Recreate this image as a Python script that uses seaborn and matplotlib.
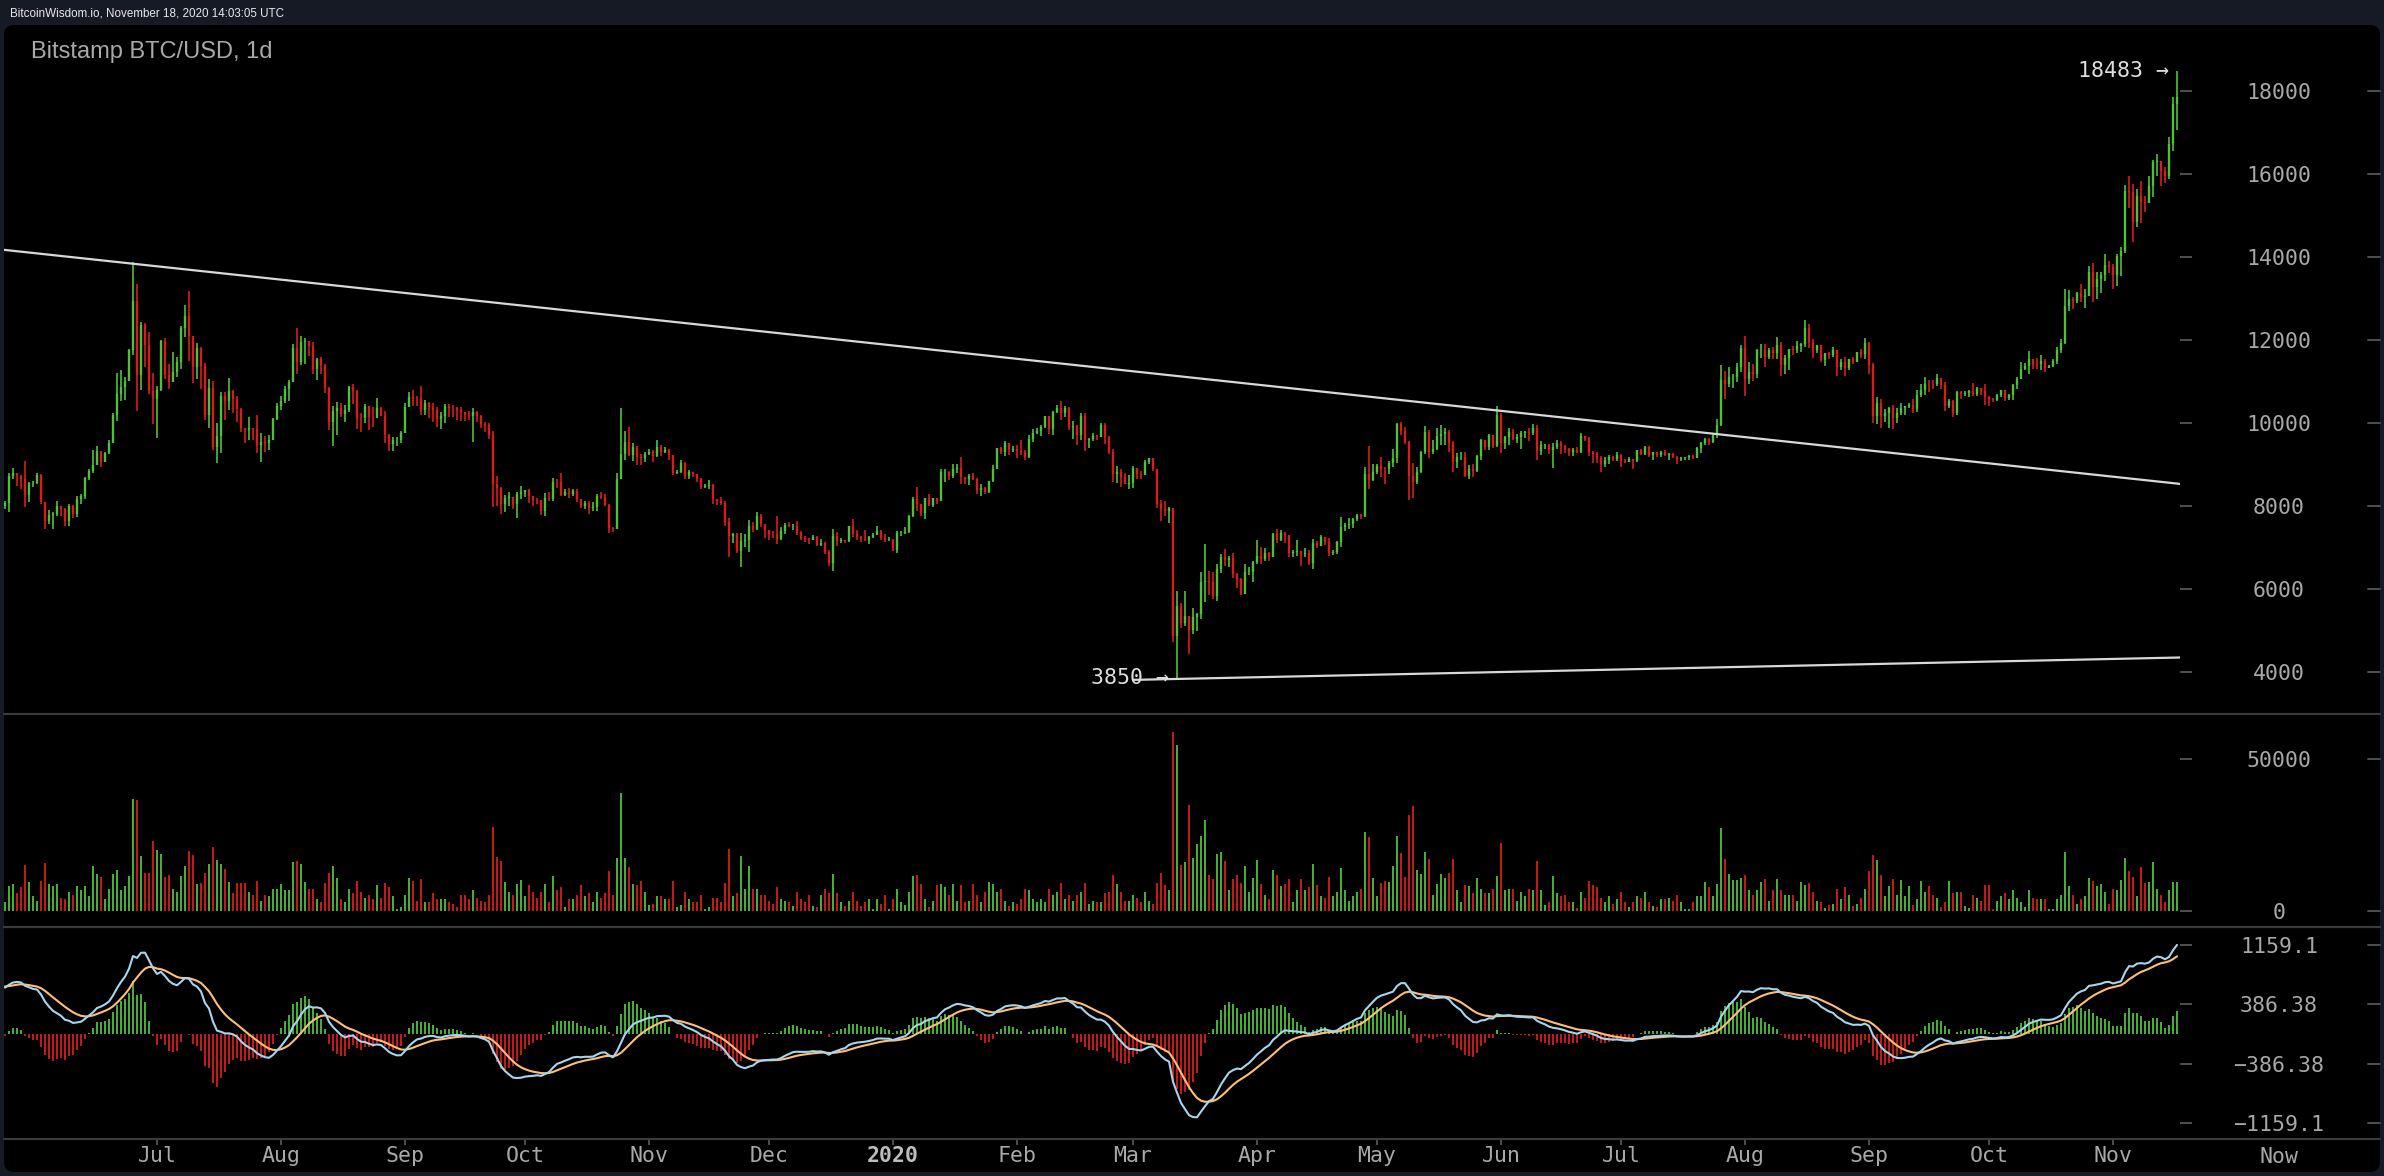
import numpy as np
import pandas as pd
import matplotlib
matplotlib.use("Agg")
import matplotlib.pyplot as plt
import matplotlib.transforms as mtransforms
from matplotlib.patches import FancyBboxPatch
from matplotlib.lines import Line2D
import seaborn as sns

# ---------------------------------------------------------------- data
FIRST_DAY = "2019-05-25"
FIRST_OPEN = 7990

CLOSE = [
    8070, 8730, 8800, 8720, 8650, 8270, 8550,
    8560, 8740, 8100, 7650, 7790, 7800, 7990, 7920, 7630, 8010, 7800, 8180, 8250, 8680, 8850, 8990, 9320, 9070, 9270, 9530,
    10200, 10700, 10870, 11020, 11750, 12930, 11150, 12370, 11880, 10780,
    10580, 10800, 11970, 11150, 10980, 11240, 11470, 12290, 12580, 12090, 11350, 11810, 11380, 10200, 10850, 9430, 9690, 10640,
    10530, 10760, 10590, 10330, 9880, 9840, 9890, 9850, 9480, 9540, 9520, 9590, 10090,
    10400, 10530, 10820, 10980, 11800, 11460, 11950, 11980, 11860, 11290, 11550, 11400, 10850, 10020, 10300, 10360, 10220, 10320,
    10860, 10760, 10130, 10110, 10400, 10140, 10130, 10370, 10180, 9720, 9490, 9590, 9600,
    9760, 10380, 10620, 10580, 10570, 10310, 10480, 10380, 10310, 10100, 10160, 10410, 10360, 10350, 10310, 10260, 10190, 10160,
    10270, 10170, 9980, 9950, 9700, 8530, 8440, 8060, 8190, 8210, 8050, 8300,
    8330, 8380, 8240, 8150, 8140, 7870, 8200, 8180, 8590, 8580, 8270, 8330, 8290, 8350, 8160, 7990, 8080, 7960, 7970, 8230,
    8220, 8020, 7470, 7440, 8660, 9260, 9550, 9230, 9430, 9180, 9150,
    9250, 9310, 9200, 9420, 9310, 9350, 9220, 8800, 8810, 9030, 8720, 8810, 8760, 8640, 8460, 8490, 8500, 8170, 8120, 8080,
    7620, 7280, 7330, 6910, 7150, 7180, 7520, 7440, 7760, 7570,
    7410, 7310, 7300, 7200, 7400, 7540, 7510, 7520, 7340, 7220, 7200, 7190, 7250, 7070, 7120, 6880, 6620, 7280, 7150, 7190,
    7150, 7510, 7320, 7250, 7200, 7190, 7250, 7300, 7390, 7220, 7170,
    7180, 6950, 7340, 7360, 7370, 7760, 8160, 8040, 7820, 8190, 8030, 8190, 8110, 8810, 8820, 8720, 8900, 8910, 8700, 8640,
    8730, 8660, 8390, 8440, 8340, 8600, 8900, 9390, 9290, 9510, 9350,
    9380, 9330, 9290, 9180, 9620, 9760, 9810, 9910, 10160, 9860, 10270, 10360, 10240, 10370, 9900, 9930, 9700, 10180, 9600, 9610,
    9690, 9670, 9960, 9660, 9310, 8780, 8810, 8700, 8540,
    8560, 8920, 8760, 8750, 9070, 9150, 8900, 8040, 7930, 7890, 7940, 4860, 5580, 5170, 5360, 5020, 5330, 5390, 6180, 6200,
    6180, 5820, 6490, 6760, 6700, 6750, 6370, 6230, 5880, 6400, 6420,
    6640, 6800, 6730, 6860, 6780, 7330, 7180, 7360, 7290, 6870, 6890, 6910, 6850, 6870, 6620, 7110, 7040, 7260, 7130, 6860,
    6880, 7130, 7500, 7540, 7560, 7690, 7790, 7770, 8780, 8620,
    8830, 8970, 8900, 8880, 9030, 9150, 9980, 9810, 9540, 8730, 8570, 8810, 9310, 9790, 9310, 9380, 9680, 9730, 9780, 9510,
    9060, 9170, 9180, 8720, 8900, 8840, 9200, 9580, 9420, 9700, 9450,
    10200, 9520, 9670, 9790, 9620, 9670, 9750, 9780, 9770, 9880, 9320, 9470, 9480, 9340, 9430, 9520, 9450, 9380, 9300, 9360,
    9290, 9680, 9620, 9290, 9250, 9160, 9000, 9120, 9190, 9140,
    9230, 9090, 9060, 9130, 9080, 9340, 9250, 9430, 9240, 9290, 9230, 9300, 9240, 9250, 9190, 9130, 9150, 9170, 9210, 9160,
    9390, 9530, 9610, 9550, 9710, 9940, 11030, 10930, 11100, 11110, 11350,
    11800, 11070, 11230, 11190, 11750, 11770, 11600, 11760, 11680, 11880, 11390, 11570, 11780, 11760, 11860, 11910, 12290, 11960,
    11750, 11870, 11520, 11680, 11650, 11760, 11350, 11470, 11320, 11530, 11480, 11710, 11660,
    11920, 11400, 10170, 10470, 10160, 10250, 10370, 10130, 10230, 10350, 10400, 10440, 10330, 10680, 10790, 10950, 10940, 10930,
    11080, 10920, 10420, 10540, 10240, 10740, 10690, 10730, 10780, 10700, 10840, 10780,
    10620, 10570, 10550, 10670, 10790, 10600, 10670, 10920, 11060, 11300, 11370, 11540, 11430, 11420, 11500, 11330, 11370, 11500,
    11750, 11920, 12820, 12990, 12930, 13130, 13040, 13070, 13650, 13280, 13460, 13560, 13800,
    13760, 13560, 14030, 14150, 15590, 15570, 14840, 15480, 15330, 15310, 15700, 16280, 16320, 16070, 15960, 16730, 17680, 17850,
]

HIGH = [
    8130, 8800, 8920, 8800, 8740, 9080, 8590,
    8600, 8800, 8760, 8100, 7900, 7860, 8120, 8010, 7950, 8060, 8030, 8250, 8300, 8700, 8900, 9350, 9450, 9330, 9300, 9580,
    10230, 11200, 11270, 11100, 11780, 13880, 13350, 12440, 12400, 12200,
    11200, 10900, 12000, 12060, 11420, 11700, 11580, 12340, 12850, 13180, 12100, 11920, 11820, 11450, 11050, 11000, 9990, 10740,
    10740, 11080, 10800, 10650, 10350, 9890, 10150, 9890, 10200, 9750, 9690, 9710, 10120,
    10480, 10660, 10900, 11040, 11900, 12280, 12090, 12040, 11980, 11940, 11560, 11580, 11420, 10870, 10410, 10500, 10470, 10430,
    10900, 10940, 10800, 10250, 10460, 10410, 10380, 10600, 10380, 10280, 9740, 9660, 9660,
    9800, 10470, 10750, 10800, 10650, 10900, 10550, 10500, 10480, 10380, 10270, 10450, 10450, 10430, 10380, 10380, 10270, 10290,
    10350, 10300, 10190, 10030, 10000, 9800, 8730, 8460, 8270, 8330, 8220, 8340,
    8490, 8390, 8400, 8240, 8190, 8150, 8320, 8330, 8680, 8650, 8800, 8420, 8440, 8400, 8420, 8170, 8110, 8110, 8090, 8300,
    8330, 8300, 8040, 7500, 8800, 10350, 9800, 9900, 9530, 9440, 9260,
    9290, 9380, 9360, 9580, 9460, 9430, 9370, 9230, 8870, 9120, 9060, 8860, 8820, 8780, 8680, 8530, 8620, 8520, 8180, 8210,
    8120, 7710, 7340, 7350, 7360, 7330, 7660, 7620, 7860, 7810,
    7570, 7420, 7400, 7750, 7490, 7580, 7620, 7560, 7630, 7400, 7270, 7230, 7300, 7270, 7200, 7140, 6940, 7440, 7380, 7220,
    7190, 7520, 7690, 7430, 7270, 7430, 7270, 7360, 7510, 7410, 7330,
    7250, 7200, 7400, 7390, 7490, 7790, 8210, 8460, 8050, 8200, 8290, 8200, 8200, 8880, 8900, 8850, 9010, 9000, 9190, 8710,
    8760, 8800, 8670, 8520, 8450, 8610, 8980, 9400, 9430, 9560, 9530,
    9440, 9470, 9600, 9340, 9700, 9860, 9870, 9950, 10180, 10160, 10290, 10440, 10520, 10400, 10380, 10050, 9960, 10250, 10230, 9650,
    9760, 9700, 9990, 10000, 9680, 9380, 8970, 8900, 8800,
    8750, 8960, 8920, 8850, 9110, 9160, 9160, 8900, 8150, 8130, 7970, 7950, 5940, 5660, 5940, 5360, 5550, 5430, 6410, 7080,
    6440, 6400, 6600, 6840, 6960, 6790, 6860, 6390, 6260, 6600, 6520,
    6680, 7180, 7000, 6990, 6900, 7350, 7450, 7420, 7380, 7300, 6940, 7180, 6910, 6980, 6930, 7200, 7150, 7300, 7260, 7220,
    6950, 7150, 7730, 7600, 7700, 7700, 7800, 7800, 8950, 9440,
    9000, 9000, 9180, 8950, 9080, 9380, 9990, 10030, 9900, 9570, 9030, 8950, 9330, 9930, 9840, 9580, 9880, 9950, 9880, 9830,
    9560, 9270, 9310, 9300, 8980, 9010, 9220, 9620, 9600, 9740, 9700,
    10400, 10230, 9690, 9880, 9850, 9730, 9800, 9800, 9880, 9980, 9940, 9560, 9500, 9490, 9520, 9580, 9560, 9480, 9400, 9400,
    9410, 9760, 9690, 9660, 9330, 9290, 9200, 9180, 9230, 9200,
    9290, 9260, 9130, 9190, 9140, 9360, 9370, 9450, 9440, 9300, 9290, 9330, 9340, 9280, 9270, 9200, 9180, 9190, 9220, 9220,
    9420, 9540, 9650, 9630, 9730, 10100, 11400, 11250, 11340, 11170, 11450,
    11880, 12100, 11480, 11420, 11790, 11900, 11910, 11800, 11820, 12070, 11950, 11630, 11790, 11850, 11970, 11930, 12480, 12390,
    12020, 11890, 11880, 11690, 11710, 11830, 11770, 11530, 11590, 11550, 11580, 11720, 11780,
    12060, 11950, 11450, 10620, 10570, 10340, 10390, 10440, 10350, 10480, 10410, 10480, 10570, 10800, 10940, 11100, 11040, 11030,
    11180, 11060, 10990, 10570, 10550, 10780, 10770, 10770, 10800, 10960, 10860, 10840,
    10930, 10660, 10600, 10690, 10800, 10800, 10690, 10950, 11100, 11480, 11440, 11730, 11550, 11560, 11630, 11540, 11400, 11530,
    11820, 12030, 13220, 13200, 13030, 13160, 13340, 13240, 13780, 13850, 13650, 13640, 14080,
    13900, 13820, 14070, 14240, 15740, 15960, 15770, 15650, 15840, 15460, 15960, 16340, 16480, 16320, 16170, 16880, 17860, 18483,
]

LOW = [
    7930, 7860, 8650, 8480, 8410, 7980, 8100,
    8450, 8540, 8040, 7450, 7560, 7450, 7750, 7760, 7520, 7520, 7700, 7730, 8050, 8180, 8620, 8800, 8980, 8930, 9050, 9250,
    9530, 10060, 10520, 10560, 11020, 11650, 10300, 10800, 11350, 10700,
    9970, 9650, 10780, 11070, 10820, 10980, 11100, 11300, 12080, 11500, 10960, 11050, 10830, 10080, 9880, 9350, 9030, 9280,
    10080, 10310, 10230, 10030, 9790, 9510, 9600, 9590, 9270, 9070, 9310, 9350, 9590,
    10080, 10310, 10480, 10520, 10980, 11180, 11400, 11420, 11610, 11180, 11040, 11180, 10720, 9830, 9450, 9700, 10150, 10030,
    10270, 10450, 9850, 9780, 10000, 9830, 9900, 10130, 10170, 9510, 9320, 9320, 9440,
    9510, 9770, 10380, 10400, 10420, 10200, 10200, 10120, 10030, 9900, 9850, 10000, 10150, 10150, 10080, 10060, 10060, 10070,
    9550, 10030, 9890, 9790, 9620, 7970, 7990, 7800, 7860, 8010, 7920, 7710,
    8170, 8220, 8070, 7990, 8050, 7780, 7760, 8120, 8120, 8440, 8230, 8250, 8200, 8230, 8100, 7950, 7930, 7810, 7880, 7880,
    8160, 7990, 7360, 7370, 7440, 8670, 9120, 9210, 9080, 8990, 8980,
    9050, 9220, 9070, 9180, 9200, 9280, 9100, 8740, 8760, 8800, 8650, 8650, 8710, 8580, 8400, 8440, 8420, 8060, 8020, 8030,
    7520, 6780, 7120, 6870, 6520, 7020, 6880, 7380, 7420, 7490,
    7230, 7170, 7240, 7080, 7170, 7330, 7490, 7420, 7290, 7170, 7130, 7090, 7180, 7030, 7040, 6840, 6560, 6430, 7040, 7110,
    7100, 7140, 7260, 7170, 7130, 7150, 7080, 7240, 7290, 7180, 7140,
    7160, 6910, 6860, 7270, 7320, 7360, 7730, 7880, 7750, 7680, 8000, 7970, 8060, 8110, 8580, 8620, 8680, 8800, 8530, 8530,
    8500, 8620, 8300, 8240, 8290, 8320, 8590, 8890, 9260, 9210, 9230,
    9310, 9150, 9240, 9110, 9160, 9550, 9730, 9680, 9890, 9730, 9710, 10240, 10080, 10140, 9820, 9610, 9460, 9580, 9320, 9400,
    9570, 9600, 9660, 9500, 9250, 8580, 8560, 8460, 8520,
    8420, 8430, 8650, 8660, 8750, 9000, 8850, 7960, 7630, 7750, 7580, 4720, 3850, 5050, 5100, 4440, 4920, 4980, 5270, 5680,
    5860, 5750, 5700, 6380, 6550, 6530, 6260, 6020, 5860, 5870, 6340,
    6160, 6600, 6610, 6680, 6680, 6770, 7100, 7150, 7120, 6770, 6780, 6800, 6560, 6780, 6580, 6480, 6990, 7030, 7060, 6800,
    6810, 6850, 7020, 7390, 7450, 7460, 7650, 7690, 7730, 8420,
    8600, 8760, 8710, 8540, 8770, 8930, 9040, 9700, 9500, 8150, 8200, 8540, 8800, 9260, 9150, 9260, 9350, 9470, 9470, 9300,
    8820, 8920, 9100, 8700, 8640, 8700, 8810, 9110, 9340, 9350, 9390,
    9420, 9270, 9380, 9460, 9580, 9530, 9380, 9640, 9570, 9700, 9100, 9240, 9380, 9250, 8910, 9380, 9250, 9280, 9210, 9200,
    9270, 9280, 9570, 9200, 9030, 9030, 8830, 8950, 9020, 9080,
    9080, 8950, 9040, 9050, 8900, 9060, 9220, 9230, 9180, 9120, 9190, 9170, 9200, 9110, 9160, 9010, 9090, 9120, 9110, 9130,
    9150, 9280, 9470, 9460, 9530, 9650, 9920, 10570, 10860, 10850, 10980,
    11230, 10660, 10940, 11010, 11080, 11560, 11350, 11530, 11530, 11530, 11130, 11170, 11280, 11640, 11690, 11700, 11830, 11810,
    11570, 11690, 11480, 11380, 11530, 11600, 11130, 11280, 11140, 11280, 11430, 11460, 11570,
    11530, 11170, 10000, 9980, 9870, 10020, 9880, 9860, 10010, 10190, 10200, 10360, 10230, 10270, 10630, 10680, 10750, 10820,
    10900, 10810, 10290, 10360, 10140, 10200, 10570, 10650, 10620, 10650, 10640, 10680,
    10440, 10400, 10500, 10530, 10630, 10540, 10560, 10550, 10820, 11060, 11280, 11190, 11300, 11290, 11270, 11230, 11320, 11350,
    11420, 11690, 11900, 12710, 12740, 12890, 12910, 12780, 13060, 12920, 12990, 13140, 13430,
    13620, 13220, 13300, 13530, 14100, 15190, 14360, 14720, 14830, 15080, 15290, 15450, 15960, 15720, 15790, 15870, 16560, 17050,
]

# daily volume, thousands of BTC
VOLUME_K = [
    2.8, 8.1, 8.8, 5.9, 7.8, 15.1, 9.4,
    4.8, 3.4, 9.8, 15.7, 8.8, 8.1, 8.8, 4.4, 3.8, 6.1, 5.1, 8.1, 6.8, 8.1, 4.8, 14.7, 12.1, 11.1, 4.1, 7.4,
    12.1, 13.4, 6.8, 8.1, 11.4, 36.7, 36.4, 18.1, 12.4, 12.4,
    23.1, 20.1, 18.7, 11.1, 11.8, 7.4, 6.1, 11.4, 14.7, 19.7, 18.4, 8.8, 9.1, 12.4, 15.4, 21.1, 16.7, 15.4, 13.7, 9.4,
    5.8, 9.1, 9.1, 9.1, 6.1, 5.1, 9.8, 3.4, 5.1, 4.8, 7.4,
    7.4, 8.8, 6.8, 6.8, 16.1, 16.4, 15.4, 9.4, 7.1, 7.1, 4.1, 3.1, 9.1, 12.4, 14.7, 10.8, 3.8, 2.8, 7.4, 5.8,
    9.8, 6.4, 4.4, 5.1, 3.8, 8.4, 4.4, 9.1, 7.8, 4.8, 0.8,
    1.4, 5.4, 10.8, 9.8, 3.4, 10.4, 2.8, 3.1, 5.8, 4.1, 4.1, 4.1, 2.8, 2.4, 1.4, 5.1, 5.1, 3.8, 6.8, 4.4,
    3.4, 2.8, 5.1, 27.7, 17.7, 16.4, 9.4, 6.1, 5.4, 8.8,
    10.1, 4.8, 8.4, 6.4, 4.4, 6.4, 8.8, 3.1, 11.4, 6.8, 7.8, 1.4, 4.1, 4.1, 5.1, 8.4, 4.8, 5.8, 2.8, 6.1,
    4.4, 5.8, 13.1, 5.1, 17.4, 38.7, 17.4, 14.4, 8.8, 8.4, 9.8,
    6.1, 2.1, 2.4, 4.8, 4.8, 3.8, 4.1, 9.8, 1.4, 2.1, 6.4, 4.1, 3.1, 3.1, 5.1, 0.8, 1.4, 4.4, 4.4, 3.1,
    9.1, 20.4, 4.8, 5.8, 18.1, 7.4, 14.7, 7.1, 7.4, 5.1,
    5.1, 3.4, 2.4, 7.8, 4.1, 3.4, 2.8, 1.8, 6.4, 3.8, 3.1, 5.1, 1.8, 1.4, 5.1, 7.1, 5.8, 12.1, 5.8, 2.8,
    1.8, 3.4, 6.4, 3.4, 1.8, 3.1, 3.8, 0.8, 3.8, 2.4, 5.4,
    0.8, 3.8, 7.4, 2.8, 2.1, 6.1, 11.4, 11.8, 8.8, 3.8, 1.4, 3.4, 8.4, 8.8, 7.8, 5.3, 8.8, 3.4, 8.4, 2.8,
    3.4, 8.8, 5.1, 2.8, 6.1, 9.4, 8.8, 6.1, 7.4, 3.4, 1.8,
    3.1, 2.4, 4.1, 7.4, 6.8, 3.8, 2.8, 4.1, 2.8, 7.1, 5.1, 6.4, 9.1, 4.1, 5.1, 3.4, 5.4, 6.1, 9.1, 2.4,
    3.4, 2.8, 2.8, 5.8, 6.4, 11.8, 8.8, 6.4, 3.4,
    3.4, 5.4, 4.4, 2.8, 6.1, 3.4, 2.4, 9.1, 12.4, 8.4, 6.8, 59.0, 54.7, 15.1, 16.1, 35.0, 17.4, 22.1,
    24.7, 30.0, 11.8, 10.4, 18.7, 19.4, 16.4, 6.8, 10.4, 11.8, 9.1, 14.7, 6.1,
    10.8, 16.7, 8.8, 5.4, 3.8, 13.4, 11.8, 8.1, 8.8, 10.4, 2.8, 6.8, 10.4, 6.8, 7.8, 15.4, 8.4, 4.8, 4.4, 11.1,
    4.8, 6.1, 14.1, 6.8, 3.4, 4.8, 6.1, 7.1, 26.1, 24.4,
    10.8, 4.8, 9.1, 9.8, 9.4, 14.7, 24.7, 19.1, 11.1, 31.7, 34.4, 13.4, 12.1, 19.4, 17.1, 5.4, 8.8, 12.1, 10.8, 12.4,
    17.1, 6.8, 2.8, 8.4, 8.1, 5.8, 10.8, 7.1, 5.8, 5.8, 7.1,
    11.4, 22.4, 6.8, 7.4, 7.1, 3.4, 6.1, 4.8, 7.1, 6.8, 16.4, 6.8, 2.1, 3.1, 11.4, 5.8, 4.8, 5.1, 2.8, 2.8,
    1.1, 6.1, 4.4, 9.8, 8.4, 7.8, 4.4, 2.8, 4.8, 2.4,
    4.1, 6.4, 3.1, 1.4, 3.1, 4.8, 4.4, 6.1, 3.1, 1.8, 1.4, 3.8, 4.1, 4.4, 3.4, 5.1, 2.8, 0.8, 0.8, 2.8,
    4.8, 4.8, 9.4, 7.8, 4.8, 8.8, 27.4, 17.1, 12.1, 10.1, 10.1,
    10.8, 11.8, 6.8, 5.1, 6.8, 9.4, 10.4, 3.4, 6.8, 10.4, 6.8, 5.4, 5.4, 5.1, 3.4, 9.4, 8.4, 9.1, 6.4, 3.4,
    2.8, 1.1, 2.1, 2.4, 7.1, 4.1, 7.8, 5.4, 1.8, 2.4, 4.4,
    7.4, 13.1, 18.4, 16.7, 11.8, 4.8, 8.1, 10.4, 5.4, 10.1, 4.8, 8.1, 2.1, 4.1, 9.8, 6.1, 8.1, 5.1, 4.4, 1.4,
    3.1, 9.8, 5.8, 6.1, 6.4, 1.8, 1.1, 5.1, 4.4, 3.4,
    8.4, 8.4, 0.8, 3.4, 4.8, 5.8, 3.8, 6.8, 4.4, 3.1, 1.4, 6.8, 4.4, 3.8, 4.1, 3.8, 0.8, 0.8, 4.1, 5.4,
    19.4, 8.1, 5.1, 2.4, 3.8, 4.8, 10.8, 9.8, 8.1, 8.8, 6.1,
    2.4, 7.1, 6.8, 10.1, 17.4, 13.1, 11.1, 4.8, 14.4, 9.1, 9.4, 16.1, 7.4, 5.1, 3.1, 6.8, 9.4, 9.4,
]

# closes 2019-04-01 .. 2019-05-24, only used to warm up the MACD averages
WARMUP_CLOSE = [
    4140, 4890, 4960, 4910, 5040, 5050, 5190, 5280, 5190, 5330, 5030, 5080, 5070, 5160, 5030, 5210, 5240, 5290, 5280, 5320,
    5290, 5390, 5530, 5430, 5170, 5240, 5190, 5170, 5150, 5300,
    5340, 5450, 5800, 5820, 5760, 5740, 5850, 5960, 6140, 6340, 7200, 6970, 7800, 7990, 8190, 7880, 7360, 7260, 8180, 7960,
    7950, 7630, 7880, 7990,
]

PRICE_TICKS = [4000, 6000, 8000, 10000, 12000, 14000, 16000, 18000]
VOLUME_TICKS = [0, 50000]
MACD_TICKS = [1159.1, 386.38, -386.38, -1159.1]
MACD_TICK_LABELS = ["1159.1", "386.38", "\u2212386.38", "\u22121159.1"]
MONTH_LABELS = ["Jul", "Aug", "Sep", "Oct", "Nov", "Dec", "2020", "Feb", "Mar",
                "Apr", "May", "Jun", "Jul", "Aug", "Sep", "Oct", "Nov"]
UPPER_TREND_DATES = ["2019-05-24", "2020-11-19"]
UPPER_TREND_PRICES = [14180, 8530]
LOWER_TREND_DATES = ["2020-03-02", "2020-11-19"]
LOWER_TREND_PRICES = [3810, 4350]
TITLE = "Bitstamp BTC/USD, 1d"
HEADER = "BitcoinWisdom.io, November 18, 2020 14:03:05 UTC"

# ---------------------------------------------------------------- derived series
REF = pd.Timestamp("2019-07-01")
n = len(CLOSE)
dates = pd.date_range(FIRST_DAY, periods=n, freq="D")
x = np.asarray((dates - REF).days, dtype=float)
close = np.array(CLOSE, float)
high = np.array(HIGH, float)
low = np.array(LOW, float)
vol = np.array(VOLUME_K, float) * 1000.0
open_ = np.concatenate([[FIRST_OPEN], close[:-1]])
up = close >= open_

full = pd.Series(WARMUP_CLOSE + CLOSE, dtype=float)
ema12 = full.ewm(span=12, adjust=False).mean()
ema26 = full.ewm(span=26, adjust=False).mean()
dif_all = ema12 - ema26
dea_all = dif_all.ewm(span=9, adjust=False).mean()
dif = dif_all.values[-n:]
dea = dea_all.values[-n:]
hist = 2.0 * (dif - dea)

month_starts = pd.date_range("2019-07-01", periods=len(MONTH_LABELS), freq="MS")
month_pos = np.asarray((month_starts - REF).days, dtype=float) + 1.0

# ---------------------------------------------------------------- style
sns.set_theme(style="dark", rc={"axes.facecolor": "none"})
plt.rcParams["font.family"] = ["DejaVu Sans Mono"]

NAVY = "#161a24"
GREEN = "#50c03c"
RED = "#d81c1c"
DIF_C = "#a6d6ef"
DEA_C = "#ffbe78"
TREND_C = "#d8d8d8"
SEP_C = "#3a3a3a"
TICK_C = "#505050"
LABEL_C = "#a8a8a8"
ANN_C = "#dedede"
FS = 15.5

W, H = 2384, 1176
fig = plt.figure(figsize=(W / 100, H / 100), dpi=100)
fig.patch.set_facecolor(NAVY)

panel = FancyBboxPatch((0.04, 0.04), 23.76, 11.47,
                       boxstyle="round,pad=0,rounding_size=0.1",
                       transform=fig.dpi_scale_trans, facecolor="black",
                       edgecolor="none", zorder=-10)
fig.add_artist(panel)


def rect(x0, y0, x1, y1):
    return [x0 / W, 1 - y1 / H, (x1 - x0) / W, (y1 - y0) / H]


ax_p = fig.add_axes(rect(4, 25, 2180, 714))
ax_v = fig.add_axes(rect(4, 714, 2180, 927))
ax_m = fig.add_axes(rect(4, 927, 2180, 1139))

XLIM = (-37.25, 506.75)


def style_axes(ax, ticks, labels, ylim):
    ax.set_facecolor("none")
    for s in ax.spines.values():
        s.set_visible(False)
    ax.grid(False)
    ax.set_xlim(*XLIM)
    ax.set_ylim(*ylim)
    ax.set_xlabel("")
    ax.set_ylabel("")
    ax.yaxis.tick_right()
    ax.set_yticks(ticks)
    ax.set_yticklabels(labels)
    ax.tick_params(axis="y", which="major", right=True, left=False,
                   length=8.64, width=1.4, color=TICK_C, pad=62.6,
                   labelsize=FS, labelcolor=LABEL_C, direction="out")
    for t in ax.get_yticklabels():
        t.set_horizontalalignment("center")
        t.set_fontfamily("DejaVu Sans Mono")
    trans = mtransforms.blended_transform_factory(fig.dpi_scale_trans, ax.transData)
    for v in ticks:
        ax.add_line(Line2D([23.68, 23.80], [v, v], transform=trans,
                           color=TICK_C, lw=1.4, clip_on=False))


# ---------------------------------------------------------------- price panel
cols = np.where(up, GREEN, RED)
ax_p.vlines(x, low, high, colors=cols, lw=1.2, zorder=2)
ax_p.vlines(x, np.minimum(open_, close), np.maximum(open_, close),
            colors=cols, lw=1.7, zorder=2)

ut_x = np.asarray((pd.to_datetime(UPPER_TREND_DATES) - REF).days, dtype=float)
lt_x = np.asarray((pd.to_datetime(LOWER_TREND_DATES) - REF).days, dtype=float)
sns.lineplot(x=ut_x, y=UPPER_TREND_PRICES, ax=ax_p, color=TREND_C, lw=1.6,
             legend=False, estimator=None, sort=False, zorder=3)
sns.lineplot(x=lt_x, y=LOWER_TREND_PRICES, ax=ax_p, color=TREND_C, lw=1.6,
             legend=False, estimator=None, sort=False, zorder=3)

ih = int(np.argmax(high))
il = int(np.argmin(low))
ax_p.text(x[ih] - 2, high[ih], f"{high[ih]:.0f} \u2192", ha="right", va="center",
          color=ANN_C, fontsize=FS, family="DejaVu Sans Mono", zorder=4)
ax_p.text(x[il] - 2, low[il], f"{low[il]:.0f} \u2192", ha="right", va="center",
          color=ANN_C, fontsize=FS, family="DejaVu Sans Mono", zorder=4)

style_axes(ax_p, PRICE_TICKS, [str(v) for v in PRICE_TICKS], (2988, 19590))
ax_p.set_xticks([])

# ---------------------------------------------------------------- volume panel
ax_v.vlines(x, 0, vol, colors=cols, lw=1.3)
style_axes(ax_v, VOLUME_TICKS, [str(v) for v in VOLUME_TICKS], (-5263, 64800))
ax_v.set_xticks([])

# ---------------------------------------------------------------- MACD panel
hcols = np.where(hist >= 0, GREEN, RED)
ax_m.vlines(x, 0, hist, colors=hcols, lw=1.3, zorder=1)
sns.lineplot(x=x, y=dea, ax=ax_m, color=DEA_C, lw=1.5, legend=False,
             estimator=None, sort=False, zorder=2)
sns.lineplot(x=x, y=dif, ax=ax_m, color=DIF_C, lw=1.5, legend=False,
             estimator=None, sort=False, zorder=3)
style_axes(ax_m, MACD_TICKS, MACD_TICK_LABELS, (-1367.5, 1393.5))
ax_m.set_xticks(month_pos)
ax_m.set_xticklabels(MONTH_LABELS)
ax_m.tick_params(axis="x", which="major", bottom=True, top=False, length=4.3,
                 width=1.4, color=TICK_C, pad=0.5, labelsize=FS,
                 labelcolor=LABEL_C, direction="out")
for t in ax_m.get_xticklabels():
    t.set_fontfamily("DejaVu Sans Mono")
    if t.get_text() == "2020":
        t.set_fontweight("bold")
        t.set_color("#bdbdbd")

# ---------------------------------------------------------------- frame texts and separators
for ypx in (714, 927, 1139):
    yin = (H - ypx) / 100
    fig.add_artist(Line2D([0.04, 23.80], [yin, yin], transform=fig.dpi_scale_trans,
                          color=SEP_C, lw=1.6))

fig.text(2279 / W, 1 - 1157 / H, "Now", ha="center", va="center", color=LABEL_C,
         fontsize=FS, family="DejaVu Sans Mono")
fig.text(31 / W, 1 - 52 / H, TITLE, ha="left", va="center", color="#a9a9a9",
         fontsize=17, family="Liberation Sans")
fig.text(10 / W, 1 - 13 / H, HEADER, ha="left", va="center", color="#e8e8e8",
         fontsize=8.4, family="Liberation Sans")

fig.savefig("out.png", dpi=100, facecolor=NAVY)
